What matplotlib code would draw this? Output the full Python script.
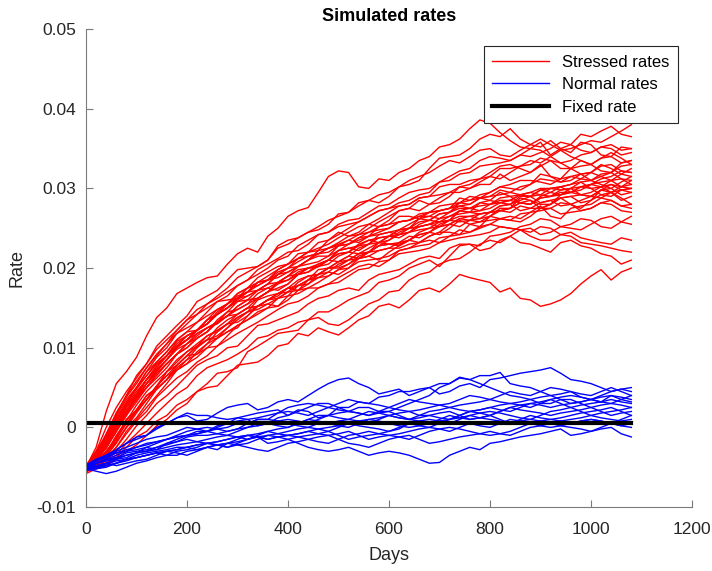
import numpy as np
import matplotlib
matplotlib.use('Agg')
import matplotlib.pyplot as plt

plt.rcParams['font.family'] = ['Liberation Sans', 'DejaVu Sans']
plt.rcParams['axes.unicode_minus'] = False

# sample days (every 20 days)
days = [0, 20, 40, 60, 80, 100, 120, 140, 160, 180,
        200, 220, 240, 260, 280, 300, 320, 340, 360, 380,
        400, 420, 440, 460, 480, 500, 520, 540, 560, 580,
        600, 620, 640, 660, 680, 700, 720, 740, 760, 780,
        800, 820, 840, 860, 880, 900, 920, 940, 960, 980,
        1000, 1020, 1040, 1060, 1080]

# stressed paths, values in 1e-3
stressed = [
    [-5.0, -2.5, 2.0, 5.5, 7.0, 8.8, 11.5, 13.8, 15.0, 16.8, 17.5, 18.2, 18.8, 19.0, 20.5, 21.8, 22.5, 22.0, 24.0, 25.0,
     26.5, 27.2, 27.6, 29.5, 31.5, 32.2, 32.0, 30.2, 30.0, 31.2, 31.0, 32.0, 32.5, 33.5, 34.0, 35.2, 35.5, 36.2, 37.5, 38.6,
     38.2, 37.0, 36.0, 35.2, 35.0, 35.8, 34.2, 35.0, 35.5, 36.8, 36.5, 37.2, 37.8, 36.8, 36.5],
    [-5.5, -3.8, -1.0, 1.8, 4.0, 6.5, 8.0, 10.2, 11.5, 12.8, 14.0, 15.8, 16.5, 17.2, 18.5, 19.8, 20.0, 20.2, 21.0, 22.8,
     23.5, 23.8, 24.5, 24.8, 25.5, 26.8, 27.0, 28.2, 28.5, 28.2, 29.0, 30.2, 30.5, 31.0, 32.5, 33.8, 34.0, 34.2, 35.0, 36.2,
     36.8, 36.5, 37.5, 36.2, 35.5, 35.2, 36.0, 35.0, 34.5, 35.8, 35.5, 34.2, 34.0, 35.2, 35.0],
    [-5.8, -5.2, -4.5, -3.8, -2.5, -1.2, -0.5, 0.8, 1.5, 2.8, 3.5, 4.5, 5.0, 5.2, 6.5, 7.8, 8.0, 8.2, 9.0, 10.2,
     10.5, 11.8, 11.5, 12.5, 12.0, 11.6, 12.5, 13.5, 14.0, 15.2, 15.5, 15.0, 16.0, 17.2, 17.5, 17.0, 18.0, 19.2, 18.8, 18.5,
     18.2, 17.0, 17.5, 16.2, 16.0, 15.2, 15.5, 16.0, 16.8, 18.0, 19.0, 19.8, 18.5, 19.5, 20.0],
    [-5.5, -5.0, -4.8, -4.0, -3.0, -2.2, -1.0, 0.2, 1.0, 2.2, 3.0, 4.5, 5.5, 6.8, 7.0, 7.5, 9.5, 10.2, 11.0, 11.8,
     12.0, 12.2, 13.5, 14.5, 14.5, 15.2, 16.0, 16.5, 17.0, 18.2, 18.5, 19.0, 20.0, 20.5, 21.0, 20.2, 21.5, 22.8, 23.0, 22.2,
     22.5, 23.5, 24.0, 23.2, 23.0, 22.5, 22.0, 23.2, 23.5, 22.8, 22.5, 21.8, 21.5, 20.5, 21.0],
    [-5.0, -3.8, -2.0, 0.2, 2.0, 3.8, 5.5, 7.2, 8.5, 10.2, 11.0, 11.8, 12.5, 13.2, 14.5, 15.8, 16.0, 16.2, 17.0, 18.2,
     18.5, 19.5, 20.0, 20.2, 21.0, 22.2, 22.5, 22.2, 23.0, 24.2, 24.5, 24.2, 25.0, 26.2, 26.5, 26.2, 27.0, 27.8, 27.5, 28.2,
     28.5, 29.5, 29.0, 28.2, 28.0, 29.0, 29.5, 30.2, 30.5, 30.8, 30.0, 30.2, 31.0, 31.2, 30.5],
    [-5.3, -4.5, -3.5, -1.2, 0.5, 2.2, 3.5, 5.2, 6.5, 7.2, 8.5, 10.0, 11.0, 11.2, 12.0, 12.5, 14.0, 15.2, 15.5, 15.2,
     16.5, 17.8, 18.0, 19.2, 19.5, 19.2, 20.0, 21.2, 21.5, 21.0, 22.0, 22.8, 23.5, 23.2, 24.0, 24.5, 25.5, 26.2, 26.0, 25.8,
     26.5, 27.5, 27.5, 28.8, 28.5, 27.5, 28.0, 28.8, 29.0, 28.2, 28.5, 29.8, 29.5, 28.5, 29.0],
    [-4.8, -3.0, -1.0, 1.5, 3.5, 5.0, 7.0, 8.8, 10.0, 11.8, 12.5, 13.2, 14.5, 15.8, 16.0, 16.2, 17.5, 18.8, 19.5, 20.2,
     20.5, 21.8, 22.0, 22.2, 23.5, 24.5, 24.0, 24.5, 25.5, 25.2, 26.0, 27.2, 27.5, 28.5, 28.0, 28.2, 29.0, 30.2, 30.0, 30.5,
     30.5, 31.8, 31.0, 31.5, 32.0, 33.0, 31.5, 31.2, 32.5, 33.5, 33.0, 32.2, 32.0, 33.2, 33.5],
    [-5.6, -4.8, -3.0, -1.5, 1.0, 2.2, 4.0, 5.0, 7.0, 8.5, 9.5, 10.2, 11.5, 12.0, 13.0, 14.2, 15.0, 15.2, 16.0, 16.8,
     17.5, 17.2, 18.5, 19.8, 20.0, 20.8, 21.5, 21.2, 22.0, 23.2, 23.0, 23.0, 23.5, 24.2, 24.5, 24.2, 25.0, 26.0, 25.5, 25.2,
     26.5, 27.2, 27.0, 27.8, 27.5, 28.2, 28.5, 27.8, 28.0, 27.5, 28.5, 29.2, 29.5, 28.8, 28.0],
    [-5.1, -4.0, -2.5, 0.2, 2.5, 4.0, 6.0, 7.5, 9.0, 10.8, 11.5, 12.2, 13.5, 14.8, 15.5, 16.5, 17.0, 17.2, 18.0, 19.2,
     20.0, 20.2, 21.0, 22.2, 22.5, 23.0, 23.5, 23.2, 24.0, 25.2, 25.5, 26.5, 26.5, 26.2, 27.0, 27.2, 27.5, 28.8, 28.5, 29.2,
     29.5, 30.2, 30.0, 29.8, 30.5, 31.8, 31.5, 30.8, 31.0, 31.8, 32.0, 33.0, 32.5, 31.8, 31.5],
    [-5.4, -5.0, -4.0, -2.5, -0.5, 1.0, 2.5, 4.0, 5.5, 7.2, 8.0, 8.8, 10.0, 10.2, 11.5, 12.8, 13.5, 14.5, 15.0, 15.2,
     16.0, 17.2, 17.5, 17.5, 18.0, 18.8, 19.5, 20.2, 20.5, 20.2, 21.0, 22.2, 22.5, 23.2, 23.5, 23.2, 24.0, 24.8, 24.5, 25.0,
     25.5, 26.2, 26.0, 25.8, 26.5, 27.5, 27.5, 26.8, 27.0, 27.2, 27.5, 28.2, 28.0, 27.2, 27.0],
    [-4.9, -3.5, -1.5, 0.8, 3.0, 4.8, 6.5, 8.2, 9.5, 11.0, 12.0, 12.2, 13.0, 14.2, 15.0, 16.2, 16.5, 17.2, 18.0, 18.2,
     19.0, 20.2, 20.5, 20.8, 21.5, 22.8, 23.0, 23.5, 24.0, 24.2, 24.5, 24.8, 25.5, 26.2, 26.0, 26.8, 27.0, 28.2, 28.0, 28.8,
     28.5, 28.2, 28.0, 28.5, 29.0, 29.8, 29.5, 29.2, 30.0, 29.2, 29.0, 29.8, 30.5, 30.2, 31.0],
    [-5.2, -4.5, -3.2, -1.8, 0.0, 2.2, 4.0, 4.8, 6.0, 7.8, 9.0, 9.2, 10.5, 12.0, 13.0, 13.2, 14.0, 15.2, 16.0, 16.8,
     17.0, 18.2, 19.0, 19.2, 20.0, 20.0, 20.5, 21.5, 22.0, 22.8, 23.0, 23.2, 24.0, 23.8, 24.5, 25.5, 26.0, 26.5, 26.5, 26.2,
     27.0, 27.8, 28.0, 27.2, 27.5, 27.5, 28.0, 29.2, 29.5, 30.2, 30.0, 29.2, 29.0, 29.8, 30.0],
    [-5.7, -4.2, -2.2, -0.2, 2.0, 3.5, 5.0, 6.8, 8.0, 9.2, 10.5, 11.8, 12.5, 13.0, 14.0, 15.2, 16.0, 17.2, 17.5, 17.2,
     18.0, 19.2, 19.5, 20.5, 21.0, 20.8, 21.5, 22.5, 23.0, 23.8, 24.0, 23.8, 24.5, 25.2, 25.5, 25.2, 26.0, 27.2, 27.0, 26.8,
     27.0, 27.8, 28.0, 29.0, 29.0, 28.2, 28.5, 28.8, 28.0, 28.5, 29.0, 29.8, 30.0, 29.2, 29.5],
    [-5.0, -3.0, 0.0, 2.5, 4.5, 6.2, 8.0, 9.8, 11.0, 12.2, 13.5, 14.8, 15.5, 16.2, 17.0, 17.8, 18.5, 19.8, 20.5, 21.2,
     22.0, 22.2, 23.0, 24.2, 24.5, 25.2, 25.5, 25.8, 26.5, 27.2, 27.5, 27.8, 28.0, 28.8, 29.0, 30.2, 30.5, 30.5, 31.0, 31.2,
     31.5, 32.5, 32.5, 32.8, 33.0, 33.8, 33.5, 32.5, 32.5, 32.8, 33.0, 33.8, 34.0, 33.2, 33.5],
    [-5.5, -5.0, -4.2, -3.0, -1.5, 0.2, 1.5, 3.0, 4.0, 5.2, 6.5, 7.8, 8.5, 9.0, 10.0, 10.2, 11.5, 12.8, 13.0, 13.5,
     14.0, 14.5, 15.5, 16.2, 16.5, 17.2, 17.5, 17.2, 18.5, 19.2, 19.5, 19.8, 20.5, 21.2, 21.5, 21.2, 22.5, 23.0, 23.0, 22.8,
     24.0, 24.2, 24.5, 25.2, 25.5, 26.2, 26.0, 25.2, 25.0, 24.8, 25.5, 26.2, 26.5, 25.8, 25.5],
    [-5.3, -4.2, -2.6, -0.5, 1.5, 3.8, 5.0, 6.2, 7.5, 9.2, 10.5, 11.2, 12.0, 13.5, 14.5, 14.8, 15.5, 16.8, 17.5, 18.2,
     19.0, 19.2, 20.0, 20.2, 21.0, 22.2, 22.5, 22.8, 23.0, 23.2, 23.5, 24.5, 25.0, 25.8, 26.0, 25.8, 26.5, 26.8, 27.0, 28.2,
     28.0, 28.2, 28.5, 29.2, 29.0, 29.8, 30.0, 30.2, 30.5, 31.2, 31.0, 30.5, 30.0, 30.8, 31.5],
    [-4.9, -4.2, -3.0, -1.2, 1.0, 2.0, 3.5, 5.2, 7.0, 7.8, 9.0, 10.2, 11.0, 12.5, 13.5, 14.2, 15.0, 15.2, 16.0, 16.5,
     17.5, 17.8, 18.5, 18.8, 19.5, 20.5, 21.0, 21.8, 22.0, 22.2, 22.5, 23.2, 23.5, 24.5, 25.0, 25.2, 25.5, 25.2, 26.0, 26.2,
     26.5, 26.2, 26.0, 26.8, 27.0, 27.2, 27.5, 28.2, 28.0, 27.2, 27.5, 28.2, 28.5, 27.8, 27.5],
    [-5.1, -3.8, -1.8, 0.8, 2.8, 4.5, 6.0, 7.2, 8.5, 10.0, 11.0, 12.2, 13.5, 14.2, 15.0, 16.2, 17.0, 18.2, 18.5, 18.8,
     19.5, 20.2, 21.0, 21.8, 22.0, 22.8, 23.5, 24.2, 24.5, 24.8, 25.0, 25.8, 26.0, 26.8, 27.0, 27.8, 28.0, 28.2, 29.0, 28.8,
     29.5, 30.2, 30.5, 31.0, 31.0, 30.8, 30.5, 31.2, 31.5, 31.2, 32.0, 31.5, 31.0, 31.8, 32.5],
    [-5.6, -4.8, -3.6, -2.0, 0.0, 1.2, 3.0, 4.8, 6.0, 7.2, 8.0, 9.5, 10.5, 11.2, 12.5, 13.5, 14.5, 14.8, 15.5, 16.2,
     17.0, 17.2, 18.0, 18.8, 19.0, 19.8, 20.5, 21.2, 21.5, 22.2, 22.5, 22.5, 23.0, 23.2, 24.0, 24.5, 24.5, 24.2, 25.5, 25.8,
     26.0, 26.2, 26.5, 26.2, 27.0, 27.8, 26.5, 26.2, 27.5, 27.8, 28.0, 28.8, 28.5, 27.8, 28.0],
    [-5.2, -4.0, -2.4, -0.5, 1.8, 3.5, 5.5, 6.8, 8.0, 9.2, 10.0, 11.2, 12.0, 13.2, 14.0, 14.2, 15.0, 16.2, 17.0, 18.0,
     18.5, 19.2, 19.5, 20.2, 20.5, 21.5, 22.0, 23.0, 23.5, 23.2, 24.0, 24.8, 25.0, 25.2, 25.5, 26.2, 26.5, 27.2, 27.5, 27.8,
     28.0, 28.5, 28.5, 29.2, 29.5, 29.2, 29.0, 29.2, 29.5, 30.2, 30.5, 30.8, 31.0, 30.2, 30.0],
    [-5.4, -5.0, -4.5, -3.5, -2.0, -0.8, 0.5, 1.8, 3.0, 4.2, 5.0, 6.5, 7.5, 8.0, 8.5, 9.2, 10.0, 11.2, 11.5, 12.2,
     12.5, 13.2, 13.5, 13.8, 13.0, 12.8, 13.5, 14.5, 15.5, 16.0, 17.0, 17.2, 18.5, 19.2, 19.5, 20.5, 21.0, 21.2, 22.0, 23.0,
     23.5, 23.2, 24.0, 24.8, 25.0, 24.2, 24.5, 25.2, 25.5, 26.2, 26.0, 25.2, 25.0, 25.8, 26.5],
    [-5.0, -3.8, -2.0, 0.5, 2.5, 4.2, 6.0, 7.5, 9.0, 10.2, 11.5, 12.2, 13.0, 14.2, 15.0, 16.0, 17.0, 17.8, 18.5, 19.5,
     20.0, 20.8, 21.5, 21.8, 22.5, 23.2, 24.0, 24.2, 25.0, 25.8, 26.5, 27.2, 27.5, 27.2, 28.0, 28.8, 29.5, 29.5, 30.0, 30.8,
     31.5, 31.2, 32.0, 32.8, 33.5, 33.2, 34.0, 34.8, 35.0, 35.5, 36.0, 35.8, 36.5, 37.2, 38.0],
    [-5.5, -4.5, -3.3, -1.0, 0.8, 2.8, 4.5, 5.8, 7.0, 8.2, 9.5, 10.5, 11.5, 12.2, 13.0, 13.8, 14.5, 16.0, 16.5, 16.8,
     17.5, 18.5, 19.0, 19.2, 20.0, 20.8, 21.0, 21.2, 22.0, 22.8, 23.0, 22.8, 23.5, 24.2, 24.5, 25.2, 25.5, 26.2, 26.5, 26.8,
     27.0, 27.2, 27.5, 28.2, 28.0, 28.8, 29.0, 29.5, 29.5, 29.2, 29.0, 28.8, 29.5, 30.2, 30.5],
    [-5.1, -3.8, -2.0, 0.2, 2.2, 3.8, 5.5, 7.2, 8.5, 9.8, 10.5, 11.5, 12.5, 13.2, 14.0, 15.2, 16.0, 16.2, 17.0, 18.2,
     19.0, 19.8, 20.0, 20.2, 21.0, 21.8, 22.0, 22.8, 23.5, 23.8, 24.0, 24.2, 24.5, 25.5, 26.0, 26.8, 27.0, 27.5, 27.5, 27.2,
     28.0, 28.8, 29.0, 29.2, 29.5, 30.0, 30.0, 29.8, 30.0, 30.8, 31.0, 31.8, 32.0, 31.2, 31.0],
    [-5.3, -4.8, -3.8, -2.5, -0.8, 0.8, 2.0, 3.8, 5.0, 6.2, 7.0, 8.2, 9.0, 10.2, 11.0, 11.8, 12.5, 13.2, 14.0, 14.8,
     15.5, 15.8, 16.5, 17.5, 18.0, 18.2, 19.0, 19.8, 20.0, 20.8, 21.0, 21.8, 22.0, 22.2, 22.5, 23.2, 23.5, 23.8, 24.0, 24.2,
     24.5, 25.2, 25.0, 24.8, 24.0, 23.5, 23.5, 24.2, 24.5, 23.8, 23.5, 23.2, 23.0, 23.8, 23.5],
    [-4.8, -3.2, -1.2, 1.2, 3.2, 5.0, 7.0, 8.2, 9.5, 11.0, 12.0, 13.2, 14.0, 14.8, 15.5, 16.8, 17.5, 17.8, 18.5, 19.8,
     20.5, 21.2, 21.5, 21.8, 22.5, 22.8, 23.0, 23.8, 24.5, 25.2, 25.5, 25.8, 26.0, 26.5, 27.0, 27.2, 27.5, 27.8, 28.0, 28.8,
     29.0, 29.8, 29.5, 29.2, 29.0, 29.2, 30.0, 30.2, 29.5, 29.8, 30.5, 30.2, 29.5, 29.8, 30.0],
    [-5.6, -4.5, -3.0, -1.5, 0.5, 2.0, 3.5, 5.2, 6.5, 7.8, 9.0, 10.2, 11.0, 11.5, 12.5, 13.8, 14.5, 15.2, 16.0, 16.2,
     17.0, 17.8, 18.5, 19.2, 20.0, 20.2, 21.0, 21.8, 22.0, 22.8, 23.5, 24.2, 24.5, 24.8, 25.0, 25.8, 26.0, 25.8, 26.0, 26.8,
     27.0, 27.2, 27.5, 28.2, 28.5, 28.0, 28.0, 28.8, 29.0, 29.2, 29.5, 30.2, 30.5, 29.8, 29.5],
    [-5.2, -4.0, -2.6, -0.5, 1.5, 3.2, 5.0, 6.5, 8.0, 9.2, 10.0, 11.2, 12.0, 13.2, 14.0, 14.8, 15.5, 16.2, 17.0, 17.5,
     18.0, 19.2, 20.0, 20.5, 21.0, 21.8, 22.0, 21.8, 22.5, 23.2, 24.0, 24.8, 25.0, 25.2, 25.5, 25.8, 26.0, 27.2, 27.0, 27.2,
     27.5, 28.2, 28.5, 28.2, 28.0, 28.8, 29.0, 29.8, 30.0, 30.2, 30.5, 31.2, 31.5, 32.2, 32.0],
    [-5.4, -4.8, -3.6, -1.8, 0.0, 1.8, 3.5, 4.8, 6.0, 7.5, 8.5, 9.2, 10.0, 11.2, 12.0, 12.8, 13.5, 14.2, 15.0, 16.2,
     16.5, 16.8, 17.5, 18.2, 19.0, 19.8, 20.0, 20.8, 21.0, 21.2, 21.5, 22.2, 22.5, 22.8, 23.0, 23.8, 24.0, 24.2, 24.5, 25.2,
     25.5, 25.2, 25.0, 24.8, 24.5, 25.2, 25.0, 24.2, 24.0, 23.2, 23.0, 22.8, 22.5, 22.2, 22.0],
    [-5.0, -3.5, -1.5, 1.0, 3.0, 5.0, 6.5, 8.0, 9.0, 10.2, 11.0, 12.2, 13.0, 14.2, 15.0, 15.8, 16.5, 17.2, 18.0, 19.2,
     19.5, 20.2, 21.0, 21.5, 21.5, 22.2, 23.0, 23.8, 24.0, 24.5, 25.0, 25.8, 26.0, 26.5, 26.5, 27.2, 27.5, 28.2, 28.5, 28.8,
     29.0, 29.2, 29.5, 30.2, 30.5, 31.2, 31.0, 30.8, 31.5, 31.8, 31.0, 31.5, 32.0, 32.8, 33.0],
    [-4.9, -3.2, -0.8, 1.8, 3.8, 5.5, 7.5, 9.0, 10.5, 11.8, 13.0, 14.2, 15.0, 15.8, 16.5, 17.8, 18.5, 19.2, 20.0, 21.0,
     21.5, 22.8, 23.5, 24.2, 24.5, 25.5, 26.0, 26.2, 27.0, 27.8, 28.0, 28.8, 29.5, 29.8, 30.0, 30.8, 31.5, 32.2, 32.5, 33.5,
     34.0, 33.8, 33.5, 34.2, 35.0, 34.8, 34.0, 33.2, 33.5, 34.2, 34.5, 35.2, 35.0, 34.2, 34.5],
    [-5.2, -4.2, -2.2, 0.0, 2.0, 4.0, 5.5, 7.0, 8.5, 10.0, 11.0, 12.2, 13.0, 14.5, 15.5, 16.2, 17.0, 18.2, 19.0, 19.8,
     20.5, 21.2, 22.0, 23.2, 23.5, 24.2, 25.0, 25.8, 26.5, 27.2, 27.5, 28.2, 28.5, 29.2, 29.5, 30.8, 31.0, 31.8, 32.0, 32.8,
     33.0, 33.2, 33.5, 34.2, 34.0, 34.5, 35.0, 35.8, 35.5, 34.8, 34.5, 35.2, 35.5, 34.8, 35.0],
    [-5.0, -3.8, -1.8, 0.8, 2.8, 4.2, 6.0, 7.8, 9.0, 10.5, 11.5, 12.2, 13.5, 14.2, 15.5, 16.8, 17.5, 18.2, 18.5, 19.2,
     20.0, 21.2, 22.0, 22.5, 23.0, 23.8, 24.5, 25.2, 25.5, 26.2, 27.0, 27.8, 28.0, 28.8, 29.0, 29.2, 29.5, 30.2, 30.5, 31.2,
     32.0, 32.8, 33.0, 32.5, 32.0, 32.8, 33.5, 33.2, 32.5, 31.8, 32.0, 32.8, 33.0, 32.2, 32.0],
    [-5.3, -3.5, -1.0, 1.5, 4.0, 5.8, 7.5, 9.2, 10.5, 12.2, 13.5, 14.2, 15.5, 16.5, 17.5, 18.8, 19.5, 20.2, 21.0, 22.5,
     23.0, 23.8, 24.5, 25.2, 26.0, 26.5, 27.0, 27.8, 28.5, 29.2, 29.5, 30.2, 31.0, 31.5, 32.0, 32.8, 33.5, 33.2, 34.0, 34.8,
     35.0, 34.2, 34.0, 34.8, 35.5, 36.2, 35.5, 34.8, 34.0, 33.5, 33.0, 33.8, 34.5, 33.8, 33.0],
]

# normal paths, values in 1e-3
normal = [
    [-5.0, -4.2, -3.5, -2.8, -2.0, -1.2, -1.0, 0.0, 0.5, 1.2, 1.5, 0.8, 1.0, 1.8, 2.5, 2.8, 3.0, 2.2, 2.5, 3.2,
     3.5, 3.2, 4.0, 4.8, 5.5, 6.0, 6.2, 5.5, 5.0, 4.2, 4.5, 4.8, 4.0, 4.5, 5.0, 4.2, 4.5, 5.2, 5.5, 5.0,
     6.0, 6.2, 6.5, 6.8, 7.0, 7.2, 7.5, 6.8, 6.0, 5.8, 5.5, 5.0, 4.5, 4.8, 5.0],
    [-5.2, -4.8, -4.5, -4.0, -3.5, -3.2, -2.5, -2.8, -2.0, -1.5, -1.0, -0.8, -0.5, 0.2, 0.5, 1.2, 1.0, 0.2, 0.5, 1.2,
     1.5, 2.2, 2.0, 1.2, 1.5, 2.5, 2.5, 3.2, 3.0, 3.8, 4.0, 4.5, 4.5, 4.8, 5.0, 5.5, 5.5, 6.2, 6.0, 6.5,
     6.5, 6.9, 5.5, 5.2, 5.0, 4.5, 4.0, 4.2, 4.5, 3.8, 3.5, 3.2, 4.0, 3.8, 3.5],
    [-5.0, -5.2, -4.8, -4.5, -4.0, -3.8, -3.5, -3.2, -3.5, -3.5, -3.0, -2.8, -2.5, -2.8, -2.0, -1.8, -1.5, -1.2, -2.0, -1.8,
     -1.5, -2.0, -2.5, -2.8, -3.0, -2.8, -2.5, -3.0, -3.5, -3.2, -3.0, -3.2, -3.5, -4.0, -4.5, -4.4, -3.5, -3.0, -2.5, -2.8,
     -2.0, -1.8, -1.5, -1.2, -1.0, -0.8, -0.5, -0.2, -1.0, -0.8, -0.5, -0.2, 0.0, -0.8, -1.2],
    [-5.3, -4.5, -4.0, -3.5, -3.0, -2.8, -2.5, -2.0, -1.5, -1.2, -1.0, -0.8, -0.5, -0.8, -1.0, -0.5, 0.0, 0.5, 0.5, 0.2,
     0.0, 0.5, 1.0, 1.5, 1.5, 1.8, 2.0, 2.5, 2.5, 2.0, 2.0, 2.5, 3.0, 3.5, 4.0, 5.0, 5.5, 6.3, 6.0, 5.5,
     5.0, 4.5, 4.0, 3.8, 3.5, 3.0, 3.0, 3.5, 3.5, 3.0, 2.5, 2.8, 3.0, 2.8, 2.5],
    [-4.8, -4.2, -3.8, -3.2, -3.0, -2.5, -2.0, -1.8, -1.5, -1.2, -1.0, -0.5, -0.5, -0.2, 0.0, 0.5, 0.5, 1.0, 1.0, 0.8,
     0.5, 0.2, 0.0, 0.5, 0.5, 0.8, 1.0, 0.8, 0.5, 1.0, 1.5, 1.8, 2.0, 1.5, 1.5, 1.2, 1.0, 1.5, 2.0, 2.2,
     2.5, 2.2, 2.0, 2.5, 3.0, 2.8, 2.5, 2.8, 3.0, 3.2, 3.5, 3.2, 3.0, 3.5, 4.0],
    [-5.1, -4.5, -4.2, -4.0, -3.8, -3.2, -3.0, -2.8, -2.5, -2.2, -2.0, -1.8, -1.5, -1.2, -1.0, -1.2, -1.5, -1.2, -1.0, -0.8,
     -0.5, -0.2, 0.0, -0.2, -0.5, 0.0, 0.5, 0.8, 1.0, 0.8, 0.5, 0.2, 0.0, 0.2, 0.5, 1.0, 1.5, 1.2, 1.0, 1.2,
     1.5, 2.0, 2.5, 2.2, 2.0, 1.8, 1.5, 1.8, 2.0, 2.2, 2.5, 2.0, 1.5, 1.8, 2.0],
    [-5.0, -4.8, -4.5, -4.8, -4.5, -4.2, -4.0, -3.5, -3.0, -2.8, -2.5, -2.8, -2.5, -2.2, -2.0, -1.5, -1.0, -1.2, -1.5, -1.2,
     -1.0, -0.8, -0.5, -0.8, -1.0, -0.8, -0.5, -1.0, -1.5, -1.2, -1.0, -0.8, -0.5, -0.2, 0.0, -0.2, -0.5, 0.0, 0.5, 0.2,
     0.0, 0.5, 1.0, 0.8, 0.5, 0.8, 1.0, 1.2, 1.5, 1.8, 2.0, 2.2, 2.5, 2.0, 1.5],
    [-4.9, -4.2, -3.6, -3.0, -2.5, -2.0, -1.5, -1.2, -1.0, -0.5, 0.0, -0.2, -0.5, 0.0, 0.5, 0.8, 1.0, 1.2, 1.5, 1.8,
     2.0, 1.8, 1.5, 2.0, 2.5, 2.2, 2.0, 1.8, 1.5, 2.0, 2.5, 3.0, 3.5, 3.2, 3.0, 2.8, 2.5, 2.8, 3.0, 3.2,
     3.5, 3.2, 3.0, 2.8, 2.5, 3.0, 3.5, 3.8, 4.0, 3.8, 3.5, 4.0, 4.5, 4.8, 4.5],
    [-5.4, -5.2, -5.0, -4.5, -4.2, -3.8, -3.5, -3.2, -3.0, -2.8, -2.5, -2.2, -2.0, -2.2, -2.5, -2.2, -2.0, -1.5, -1.0, -1.2,
     -1.5, -1.2, -1.0, -0.8, -0.5, -1.0, -1.5, -1.2, -1.0, -0.8, -0.5, 0.0, 0.5, 0.8, 1.0, 0.8, 0.5, 1.0, 1.5, 1.2,
     1.0, 0.8, 0.5, 1.0, 1.5, 1.2, 1.0, 0.8, 0.5, 0.8, 1.0, 0.8, 0.5, 0.2, 0.5],
    [-5.2, -4.5, -4.0, -3.8, -3.5, -3.2, -3.0, -2.5, -2.0, -1.8, -1.5, -1.8, -2.0, -1.8, -1.5, -1.2, -1.0, -0.8, -0.5, -0.8,
     -1.0, -1.2, -1.5, -1.2, -1.0, -1.5, -2.0, -2.2, -2.5, -2.0, -1.5, -1.2, -1.0, -1.5, -2.0, -1.8, -1.5, -1.2, -1.0, -0.8,
     -0.5, -0.8, -1.0, -0.5, 0.0, 0.2, 0.5, 0.2, 0.0, -0.2, -0.5, 0.0, 0.5, 0.2, 0.0],
    [-5.0, -4.5, -4.2, -3.8, -3.2, -3.0, -2.8, -2.5, -2.2, -1.8, -1.2, -1.0, -1.0, -0.8, -0.5, -0.2, 0.0, 0.2, 0.5, 0.8,
     1.0, 0.8, 0.5, 1.0, 1.5, 1.2, 1.0, 1.5, 2.0, 1.8, 1.5, 1.2, 1.0, 1.5, 2.0, 2.2, 2.5, 2.2, 2.0, 1.8,
     1.5, 2.0, 2.5, 2.8, 3.0, 3.2, 3.5, 3.0, 2.5, 2.8, 3.0, 3.2, 3.5, 3.2, 3.0],
    [-5.3, -5.0, -4.6, -4.2, -4.0, -3.5, -3.2, -3.0, -2.8, -2.5, -2.5, -2.2, -2.0, -1.8, -1.5, -1.2, -1.0, -1.2, -1.5, -1.2,
     -1.0, -0.8, -0.5, -0.2, 0.0, 0.2, 0.5, 0.2, 0.0, -0.2, -0.5, -0.2, 0.5, 0.2, 0.0, 0.5, 1.0, 1.2, 1.5, 1.8,
     2.0, 1.8, 1.5, 1.2, 1.0, 1.5, 2.0, 2.2, 2.5, 2.0, 1.5, 1.8, 2.0, 2.2, 2.5],
    [-4.7, -4.0, -3.5, -2.8, -2.0, -1.5, -1.0, -0.2, 0.5, 1.2, 1.8, 1.5, 1.5, 1.2, 1.0, 1.2, 1.5, 1.8, 2.0, 2.2,
     1.5, 2.0, 2.5, 3.0, 3.0, 2.5, 2.0, 1.8, 1.5, 1.8, 2.0, 1.5, 1.0, 1.2, 1.5, 1.8, 2.0, 1.5, 1.0, 1.2,
     1.5, 1.0, 0.5, 0.8, 1.0, 0.8, 0.5, 0.8, 1.0, 1.2, 1.5, 1.2, 1.0, 0.8, 1.0],
    [-5.1, -5.0, -4.8, -4.5, -4.0, -3.8, -3.5, -3.2, -3.0, -3.2, -3.5, -3.0, -2.5, -2.2, -2.0, -2.2, -2.5, -2.8, -3.0, -2.5,
     -2.0, -1.8, -1.5, -1.8, -2.0, -1.5, -1.0, -0.8, -0.5, -0.8, -1.0, -1.2, -1.5, -1.0, -0.5, -0.2, 0.0, -0.2, -0.5, -0.8,
     -1.0, -0.8, -0.5, 0.0, 0.5, 0.2, 0.0, 0.2, 0.5, 0.8, 1.0, 0.8, 0.5, 1.0, 1.5],
    [-5.0, -4.2, -3.8, -3.2, -2.8, -2.5, -2.2, -1.8, -1.5, -1.0, -0.5, -0.2, 0.0, -0.2, -0.5, -0.2, 0.5, 1.0, 1.0, 1.8,
     2.5, 2.8, 3.0, 2.8, 2.5, 3.0, 3.5, 3.2, 3.0, 2.8, 2.5, 2.2, 2.0, 2.2, 2.5, 2.8, 3.0, 3.5, 4.0, 3.8,
     3.5, 4.0, 4.5, 4.2, 4.0, 4.5, 5.0, 4.8, 4.5, 4.2, 4.0, 4.5, 5.0, 4.5, 4.0],
    [-5.2, -5.5, -5.8, -5.5, -5.0, -4.5, -4.2, -3.8, -3.5, -3.0, -2.8, -2.5, -2.0, -2.2, -2.5, -2.0, -1.5, -1.0, -0.5, -0.2,
     0.0, 0.5, 1.0, 0.8, 0.5, 0.2, 0.0, 0.5, 1.0, 1.2, 1.5, 1.2, 1.0, 0.8, 0.5, 0.8, 1.0, 1.5, 2.0, 2.2,
     2.5, 2.8, 3.0, 3.2, 3.5, 3.8, 4.0, 3.5, 3.0, 3.2, 3.5, 3.8, 4.0, 3.5, 3.2],
]

fixed_rate = 0.0006
fixed_days = [0, 1080]

x_ticks = [0, 200, 400, 600, 800, 1000, 1200]
y_ticks = [-0.01, 0, 0.01, 0.02, 0.03, 0.04, 0.05]

for p in stressed + normal:
    if len(p) != len(days):
        print('bad path length', len(p))

fig = plt.figure(figsize=(7.12, 5.71), dpi=100)
ax = fig.add_axes([0.1208, 0.112, 0.851, 0.837])

for i, path in enumerate(stressed):
    ax.plot(days[:len(path)], np.array(path) / 1000, color='#ff0000', lw=1.0,
            label='Stressed rates' if i == 0 else None)
for i, path in enumerate(normal):
    ax.plot(days[:len(path)], np.array(path) / 1000, color='#0000ff', lw=1.0,
            label='Normal rates' if i == 0 else None)
ax.plot(fixed_days, [fixed_rate, fixed_rate], color='black', lw=3, label='Fixed rate')

ax.set_xlim(0, 1200)
ax.set_ylim(-0.01, 0.05)
ax.set_xticks(x_ticks)
ax.set_yticks(y_ticks)
ax.set_yticklabels(['%g' % v for v in y_ticks])

for s in ['top', 'right']:
    ax.spines[s].set_visible(False)
for s in ['left', 'bottom']:
    ax.spines[s].set_color('#7a7a7a')
ax.tick_params(direction='in', length=5, color='#7a7a7a', labelcolor='#262626',
               labelsize=12.5)
ax.tick_params(axis='x', pad=11)
ax.tick_params(axis='y', pad=7)

ax.set_xlabel('Days', fontsize=13, color='#262626', labelpad=7)
ax.set_ylabel('Rate', fontsize=13, color='#262626', labelpad=8)
ax.set_title('Simulated rates', fontsize=13, fontweight='bold', pad=6)

leg = ax.legend(loc='upper right', bbox_to_anchor=(0.977, 0.964), borderaxespad=0,
                fontsize=12, handlelength=3.4, fancybox=False, framealpha=1,
                edgecolor='#262626', borderpad=0.5, labelspacing=0.45)
leg.get_frame().set_linewidth(0.8)

fig.savefig('out.png', dpi=100)
